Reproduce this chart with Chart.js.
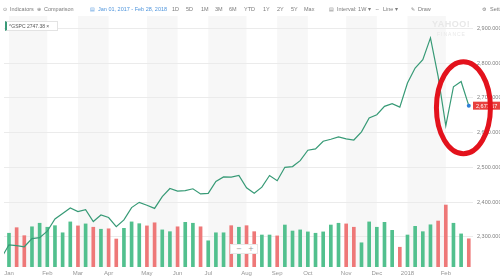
<!DOCTYPE html>
<html><head><meta charset="utf-8">
<script src="https://cdn.jsdelivr.net/npm/chart.js@4.4.1/dist/chart.umd.min.js"></script>
<style>
html,body{margin:0;padding:0;background:#fff;}
#wrap{position:relative;width:500px;height:280px;overflow:hidden;font-family:"Liberation Sans",Arial,sans-serif;}
#c{position:absolute;left:0;top:0;}
.t{position:absolute;top:6px;font-size:5.5px;line-height:6px;color:#7c7c7c;white-space:nowrap;}
.i{font-family:"DejaVu Sans",sans-serif;font-size:5px;}
.b{color:#4f95dc;}
#chip{position:absolute;left:5px;top:21px;width:48px;height:8px;border:1px solid #e3e3e3;border-left:2px solid #3a9a78;background:#fff;font-size:5px;line-height:8px;color:#555;padding-left:2px;white-space:nowrap;}
#wm{position:absolute;left:432px;top:20px;color:#e8e8e8;font-weight:bold;font-size:9px;line-height:9px;letter-spacing:0.5px;}
#wm2{position:absolute;left:437px;top:31px;color:#e8e8e8;font-size:5px;letter-spacing:1px;}
#zm{position:absolute;left:230px;top:244px;width:26px;height:8px;background:#fff;border:1px solid #e8e8e8;font-size:7px;line-height:8px;color:#999;font-family:"DejaVu Sans",sans-serif;}
#zm span{position:absolute;top:0;}
</style>
</head><body>
<div id="wrap">
<canvas id="c" width="500" height="280"></canvas>
<span class="t i" style="left:3px">⊙</span><span class="t" style="left:10px">Indicators</span>
<span class="t i" style="left:37px">⊕</span><span class="t" style="left:44px">Comparison</span>
<span class="t i b" style="left:90px">▤</span><span class="t b" style="left:98px">Jan 01, 2017 - Feb 28, 2018</span>
<span class="t" style="left:172px">1D</span><span class="t" style="left:186px">5D</span><span class="t" style="left:201px">1M</span>
<span class="t" style="left:215px">3M</span><span class="t" style="left:229px">6M</span><span class="t" style="left:244px">YTD</span>
<span class="t" style="left:263px">1Y</span><span class="t" style="left:277px">2Y</span><span class="t" style="left:291px">5Y</span><span class="t" style="left:304px">Max</span>
<span class="t i" style="left:329px">▤</span><span class="t" style="left:337px">Interval: 1W ▾</span>
<span class="t i" style="left:375px">∼</span><span class="t" style="left:383px">Line ▾</span>
<span class="t i" style="left:411px">✎</span><span class="t" style="left:418px">Draw</span>
<span class="t i" style="left:482px">⚙</span><span class="t" style="left:490px">Settings</span>
<div id="wm">YAHOO!</div><div id="wm2">FINANCE</div>
<div id="chip">^GSPC 2747.38 ×</div>
<div id="zm"><span style="left:5px">−</span><span style="left:17px">+</span></div>
</div>
<script>
// Weekly categories (week start), first one lies just left of the visible range
const weeks = ['2016-12-26','2017-01-02','2017-01-09','2017-01-16','2017-01-23','2017-01-30','2017-02-06','2017-02-13','2017-02-20','2017-02-27',
'2017-03-06','2017-03-13','2017-03-20','2017-03-27','2017-04-03','2017-04-10','2017-04-17','2017-04-24','2017-05-01','2017-05-08',
'2017-05-15','2017-05-22','2017-05-29','2017-06-05','2017-06-12','2017-06-19','2017-06-26','2017-07-03','2017-07-10','2017-07-17',
'2017-07-24','2017-07-31','2017-08-07','2017-08-14','2017-08-21','2017-08-28','2017-09-04','2017-09-11','2017-09-18','2017-09-25',
'2017-10-02','2017-10-09','2017-10-16','2017-10-23','2017-10-30','2017-11-06','2017-11-13','2017-11-20','2017-11-27','2017-12-04',
'2017-12-11','2017-12-18','2017-12-25','2018-01-01','2018-01-08','2018-01-15','2018-01-22','2018-01-29','2018-02-05','2018-02-12',
'2018-02-19','2018-02-26'];
// Weekly closes (^GSPC)
const closes = [2238.83,2276.98,2274.64,2271.31,2294.69,2297.42,2316.10,2351.16,2367.34,2383.12,
2372.60,2378.25,2343.98,2362.72,2355.54,2328.95,2348.69,2384.20,2399.29,2390.90,
2381.73,2415.82,2439.07,2431.77,2433.15,2438.30,2423.41,2425.18,2459.27,2472.54,
2472.10,2476.83,2441.32,2425.55,2443.05,2476.55,2461.43,2500.23,2502.22,2519.36,
2549.33,2553.17,2575.21,2581.07,2587.84,2582.30,2578.85,2602.42,2642.22,2651.50,
2675.81,2683.34,2673.61,2743.15,2786.24,2810.30,2872.87,2762.13,2619.55,2732.22,
2747.30,2677.67];
// Weekly volume (billions of shares), null = not shown
const volumes = [null,15.2,17.7,14.1,18.1,19.7,17.9,18.6,15.4,20.3,
18.5,19.4,17.9,17.0,17.2,12.6,17.4,20.3,19.5,18.5,
19.9,16.7,15.9,18.1,20.1,19.7,18.1,11.8,15.4,15.4,
18.6,17.9,18.6,15.9,14.4,14.4,14.0,18.9,16.2,16.7,
15.8,15.2,15.8,18.9,19.7,19.4,17.9,10.9,20.3,17.9,
20.1,16.5,8.9,14.4,18.3,15.9,19.0,20.7,27.9,19.7,
14.9,12.7];
const monthTickWeeks = ['2017-01-02','2017-02-06','2017-03-06','2017-04-03','2017-05-08','2017-06-05','2017-07-03','2017-08-07','2017-09-04','2017-10-02','2017-11-06','2017-12-04','2018-01-01','2018-02-05'];
const monthLabels = ['Jan','Feb','Mar','Apr','May','Jun','Jul','Aug','Sep','Oct','Nov','Dec','2018','Feb'];
const priceTicks = [2300,2400,2500,2600,2700,2800,2900];
const priceTickLabels = ['2,300.000','2,400.000','2,500.000','2,600.000','2,700.000','2,800.000','2,900.000'];
const lastPriceLabel = '2,677.67';
const highlight = {week: 59.3, price: 2672}; // centre of the red hand-drawn ring

const xOf = w => weeks.indexOf(w) - 1;
const monthIdx = monthTickWeeks.map(xOf);
const GREEN = '#52c08e', RED = '#ee7878';

Chart.defaults.font.family = '"Liberation Sans", Arial, sans-serif';

const bgPlugin = {
  id:'bands',
  beforeDraw(chart){
    const {ctx, chartArea:a, scales:{x}} = chart;
    ctx.save(); ctx.fillStyle = '#f7f7f7';
    for (let k = 0; k < monthIdx.length - 1; k += 2) {
      const x1 = x.getPixelForValue(monthIdx[k]), x2 = x.getPixelForValue(monthIdx[k+1]);
      ctx.fillRect(x1, a.top, x2 - x1, a.bottom - a.top);
    }
    ctx.restore();
  },
  afterDraw(chart){
    const {ctx, chartArea:a, scales:{x, y}} = chart;
    const py = y.getPixelForValue(closes[closes.length-1]);
    ctx.save();
    ctx.fillStyle = '#e8413f';
    ctx.fillRect(a.right, py - 4, 30, 8);
    ctx.fillStyle = '#fff'; ctx.font = '5.5px "Liberation Sans", Arial'; ctx.textBaseline = 'middle';
    ctx.fillText(lastPriceLabel, a.right + 3, py + 0.5);
    // red hand-drawn ring
    ctx.strokeStyle = '#e3121c'; ctx.lineWidth = 5;
    ctx.beginPath();
    ctx.ellipse(x.getPixelForValue(highlight.week), y.getPixelForValue(highlight.price), 27, 46, 0, 0, Math.PI*2);
    ctx.stroke();
    ctx.restore();
  }
};

new Chart(document.getElementById('c'), {
  data: {
    datasets: [
      { type:'line', yAxisID:'y', order:0,
        data: closes.map((v,i)=>({x:xOf(weeks[i]), y:v})),
        borderColor:'#379a76', borderWidth:1.2, tension:0,
        pointRadius: c => c.dataIndex === closes.length-1 ? 2 : 0,
        pointBackgroundColor:'#2f80d8', pointBorderWidth:0 },
      { type:'bar', yAxisID:'v', order:1,
        data: volumes.map((v,i)=>({x:xOf(weeks[i]), y:v})),
        backgroundColor: c => { const i = c.dataIndex; return (i>0 && closes[i] < closes[i-1]) ? RED : GREEN; },
        barThickness:3 }
    ]
  },
  options: {
    responsive:false, animation:false, events:[],
    layout:{padding:{top:16,left:0,right:0,bottom:0}},
    plugins:{legend:{display:false}, tooltip:{enabled:false}},
    scales:{
      x:{ type:'linear', min:-0.65, max:60.55, offset:false,
          grid:{display:false, drawTicks:false, offset:false}, border:{display:false},
          afterBuildTicks: s => { s.ticks = monthIdx.map(v=>({value:v})); },
          afterFit: s => { s.height = 13; },
          ticks:{ autoSkip:false, maxRotation:0, padding:3, color:'#969696', font:{size:6},
                  callback: v => monthLabels[monthIdx.indexOf(v)] } },
      y:{ position:'right', min:2213, max:2936,
          grid:{color:'#ebebeb', drawTicks:false}, border:{display:false},
          afterBuildTicks: s => { s.ticks = priceTicks.map(v=>({value:v})); },
          afterFit: s => { s.width = 27; },
          ticks:{ padding:4, color:'#808080', font:{size:5.5},
                  callback: v => priceTickLabels[priceTicks.indexOf(v)] } },
      v:{ display:false, min:0, max:113 }
    }
  },
  plugins:[bgPlugin]
});
</script>
</body></html>
